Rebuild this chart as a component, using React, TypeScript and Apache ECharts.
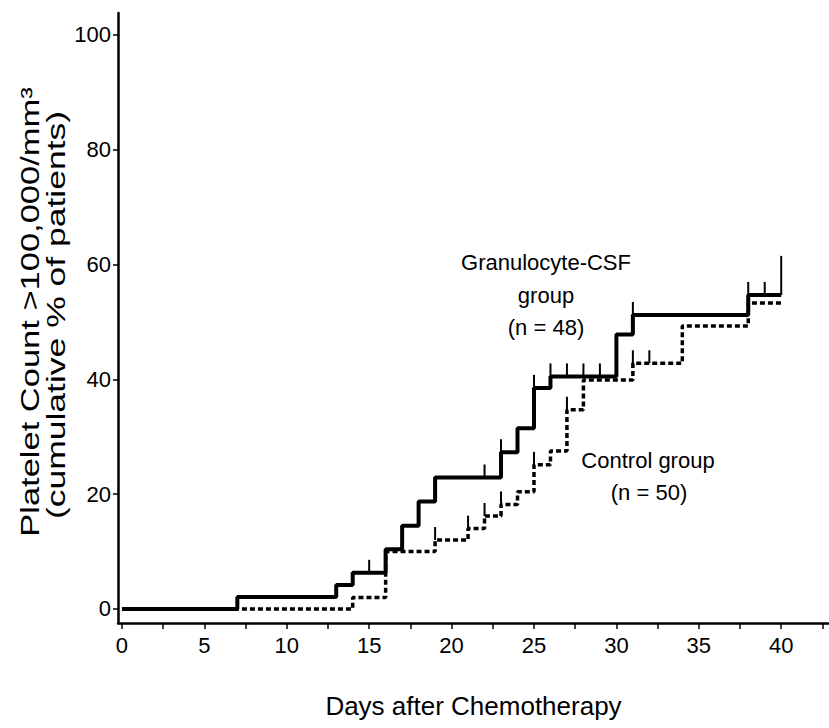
import React, { useEffect, useRef } from "react";
import * as echarts from "echarts";

// Kaplan–Meier style cumulative curves: % of patients with platelets > 100,000/mm³
const gcsfDays = [0, 7, 13, 14, 16, 17, 18, 19, 23, 24, 25, 26, 30, 31, 38, 40];
const gcsfPct = [0, 2.1, 4.2, 6.3, 10.4, 14.5, 18.7, 22.9, 27.3, 31.5, 38.5, 40.5, 47.8, 51.2, 54.7, 54.7];

const controlDays = [0, 14, 16, 19, 21, 22, 23, 24, 25, 26, 27, 28, 31, 34, 38, 40];
const controlPct = [0, 2, 10, 12, 14, 16.2, 18.2, 20.4, 25.1, 27.5, 34.7, 39.9, 42.8, 49.3, 53.3, 53.3];

// censored observations (small vertical marks on each curve)
const gcsfCensorDays = [15, 22, 23, 25, 26, 27, 28, 29, 31, 38, 39];
const gcsfCensorPct = [6.3, 22.9, 27.3, 38.5, 40.5, 40.5, 40.5, 40.5, 51.2, 54.7, 54.7];
const controlCensorDays = [19, 21, 22, 23, 25, 27, 31, 32];
const controlCensorPct = [12, 14, 16.2, 18.2, 25.1, 34.7, 42.8, 42.8];

// closing mark of the G-CSF curve: [day, from %, to %]
const gcsfLastMark = [40, 54.7, 61.5];

const xTickValues = [0, 2.5, 5, 7.5, 10, 12.5, 15, 17.5, 20, 22.5, 25, 27.5, 30, 32.5, 35, 37.5, 40, 42.5];
const xLabelValues = [0, 5, 10, 15, 20, 25, 30, 35, 40];
const yTickValues = [0, 20, 40, 60, 80, 100];

const FONT = '"Liberation Sans", Arial, Helvetica, sans-serif';

const zip = (xs: number[], ys: number[]) => xs.map((x, i) => [x, ys[i]]);

export default function App() {
  const ref = useRef<HTMLDivElement>(null);

  useEffect(() => {
    if (!ref.current) return;
    const chart = echarts.init(ref.current, undefined, { renderer: "svg" });

    const censorTick = (params: any, api: any) => {
      const p = api.coord([api.value(0), api.value(1)]);
      return {
        type: "line",
        shape: { x1: p[0], y1: p[1], x2: p[0], y2: p[1] - 13 },
        style: { stroke: "#000", lineWidth: 2 },
      };
    };

    chart.setOption({
      animation: false,
      backgroundColor: "#fff",
      grid: { left: 118, right: 0, top: 13, bottom: 105, outerBoundsMode: "none" },
      xAxis: {
        type: "value",
        min: -0.24,
        max: 42.9,
        splitLine: { show: false },
        axisLine: { onZero: false, lineStyle: { color: "#000", width: 2.5 } },
        axisTick: { customValues: xTickValues, length: 6, lineStyle: { color: "#000", width: 1.5 } },
        axisLabel: {
          customValues: xLabelValues,
          color: "#000",
          fontFamily: FONT,
          fontSize: 22,
          margin: 11,
        },
        name: "Days after Chemotherapy",
        nameLocation: "middle",
        nameGap: 70,
        nameTextStyle: { color: "#000", fontFamily: FONT, fontSize: 26 },
      },
      yAxis: {
        type: "value",
        min: -2.44,
        max: 103.8,
        splitLine: { show: false },
        axisLine: { onZero: false, lineStyle: { color: "#000", width: 2.5 } },
        axisTick: { customValues: yTickValues, length: 5, lineStyle: { color: "#000", width: 1.5 } },
        axisLabel: {
          customValues: yTickValues,
          color: "#000",
          fontFamily: FONT,
          fontSize: 22,
          margin: 7,
        },
      },
      series: [
        {
          name: "Control group",
          type: "line",
          step: "end",
          symbol: "none",
          data: zip(controlDays, controlPct),
          lineStyle: { color: "#000", width: 3.5, type: [5, 3], cap: "butt" },
          z: 2,
        },
        {
          name: "Granulocyte-CSF group",
          type: "line",
          step: "end",
          symbol: "none",
          data: zip(gcsfDays, gcsfPct),
          lineStyle: { color: "#000", width: 4 },
          z: 3,
        },
        {
          type: "custom",
          renderItem: censorTick,
          data: zip(gcsfCensorDays, gcsfCensorPct),
          z: 4,
        },
        {
          type: "custom",
          renderItem: censorTick,
          data: zip(controlCensorDays, controlCensorPct),
          z: 4,
        },
        {
          type: "custom",
          encode: { x: 0, y: [1, 2] },
          renderItem: (params: any, api: any) => {
            const a = api.coord([api.value(0), api.value(1)]);
            const b = api.coord([api.value(0), api.value(2)]);
            return {
              type: "line",
              shape: { x1: a[0], y1: a[1], x2: b[0], y2: b[1] },
              style: { stroke: "#000", lineWidth: 2 },
            };
          },
          data: [gcsfLastMark],
          z: 4,
        },
      ],
      graphic: [
        {
          type: "text",
          x: 30,
          y: 312,
          rotation: Math.PI / 2,
          scaleX: 1.38,
          style: {
            text: "Platelet Count >100,000/mm³",
            font: `25px ${FONT}`,
            fill: "#000",
            align: "center",
            verticalAlign: "middle",
          },
        },
        {
          type: "text",
          x: 56,
          y: 315,
          rotation: Math.PI / 2,
          scaleX: 1.42,
          style: {
            text: "(cumulative % of patients)",
            font: `25px ${FONT}`,
            fill: "#000",
            align: "center",
            verticalAlign: "middle",
          },
        },
        {
          type: "text",
          x: 546,
          y: 262,
          style: { text: "Granulocyte-CSF", font: `22px ${FONT}`, fill: "#000", align: "center", verticalAlign: "middle" },
        },
        {
          type: "text",
          x: 546,
          y: 295,
          style: { text: "group", font: `22px ${FONT}`, fill: "#000", align: "center", verticalAlign: "middle" },
        },
        {
          type: "text",
          x: 546,
          y: 327,
          style: { text: "(n = 48)", font: `22px ${FONT}`, fill: "#000", align: "center", verticalAlign: "middle" },
        },
        {
          type: "text",
          x: 648,
          y: 460,
          style: { text: "Control group", font: `22px ${FONT}`, fill: "#000", align: "center", verticalAlign: "middle" },
        },
        {
          type: "text",
          x: 649,
          y: 492,
          style: { text: "(n = 50)", font: `22px ${FONT}`, fill: "#000", align: "center", verticalAlign: "middle" },
        },
      ],
    });

    return () => chart.dispose();
  }, []);

  return (
    <div
      ref={ref}
      style={{ position: "absolute", left: 0, top: 0, width: 829, height: 728 }}
    />
  );
}
